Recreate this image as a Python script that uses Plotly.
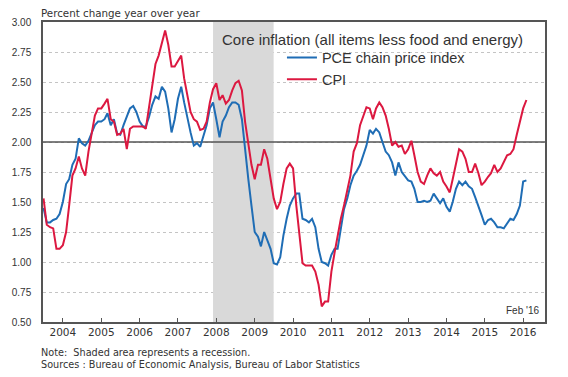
import pandas as pd
import plotly.graph_objects as go

# Monthly values, Jul 2003 - Feb 2016 (percent change, year over year)
cpi_core = [
    1.53, 1.31, 1.29, 1.28, 1.11, 1.11,                                   # 2003 Jul-Dec
    1.14, 1.25, 1.47, 1.72, 1.78, 1.88, 1.78, 1.72, 1.92, 2.06, 2.22, 2.28,  # 2004
    2.28, 2.32, 2.36, 2.19, 2.17, 2.06, 2.07, 2.11, 1.94, 2.11, 2.13, 2.13,  # 2005
    2.13, 2.13, 2.11, 2.28, 2.47, 2.65, 2.72, 2.83, 2.93, 2.81, 2.63, 2.63,  # 2006
    2.67, 2.72, 2.53, 2.39, 2.25, 2.19, 2.17, 2.10, 2.11, 2.17, 2.33, 2.44,  # 2007
    2.49, 2.35, 2.39, 2.32, 2.35, 2.43, 2.49, 2.51, 2.43, 2.17, 1.97, 1.81,  # 2008
    1.69, 1.81, 1.81, 1.94, 1.86, 1.69, 1.53, 1.44, 1.50, 1.65, 1.78, 1.82,  # 2009
    1.78, 1.47, 1.22, 0.99, 0.97, 0.97, 0.97, 0.92, 0.81, 0.63, 0.67, 0.67,  # 2010
    0.92, 1.08, 1.22, 1.36, 1.47, 1.61, 1.72, 1.92, 1.99, 2.14, 2.22, 2.29,  # 2011
    2.28, 2.19, 2.28, 2.33, 2.29, 2.22, 2.11, 1.97, 2.00, 1.96, 1.97, 1.90,  # 2012
    1.94, 2.01, 1.89, 1.75, 1.67, 1.65, 1.72, 1.78, 1.74, 1.72, 1.75, 1.67,  # 2013
    1.63, 1.58, 1.69, 1.83, 1.94, 1.92, 1.86, 1.75, 1.75, 1.82, 1.74, 1.64,  # 2014
    1.67, 1.71, 1.74, 1.81, 1.75, 1.78, 1.83, 1.89, 1.90, 1.94, 2.06, 2.17,  # 2015
    2.28, 2.35,                                                           # 2016 Jan-Feb
]

pce_core = [
    1.45, 1.33, 1.33, 1.35, 1.36, 1.40,                                   # 2003 Jul-Dec
    1.50, 1.65, 1.69, 1.81, 1.86, 2.03, 1.99, 1.97, 2.01, 2.07, 2.14, 2.17,  # 2004
    2.17, 2.19, 2.24, 2.14, 2.19, 2.07, 2.06, 2.14, 2.21, 2.28, 2.30, 2.25,  # 2005
    2.17, 2.13, 2.13, 2.21, 2.31, 2.38, 2.36, 2.46, 2.42, 2.28, 2.08, 2.19,  # 2006
    2.36, 2.46, 2.33, 2.19, 2.08, 1.97, 1.99, 1.96, 2.06, 2.14, 2.28, 2.33,  # 2007
    2.19, 2.04, 2.17, 2.22, 2.29, 2.33, 2.33, 2.31, 2.19, 1.92, 1.69, 1.47,  # 2008
    1.25, 1.21, 1.13, 1.25, 1.18, 1.11, 0.99, 0.98, 1.04, 1.22, 1.36, 1.47,  # 2009
    1.53, 1.57, 1.57, 1.36, 1.35, 1.33, 1.36, 1.29, 1.11, 1.00, 0.99, 0.97,  # 2010
    1.06, 1.11, 1.11, 1.28, 1.44, 1.53, 1.64, 1.72, 1.76, 1.81, 1.89, 1.97,  # 2011
    2.10, 2.07, 2.11, 2.08, 2.00, 1.92, 1.89, 1.83, 1.72, 1.83, 1.75, 1.72,  # 2012
    1.68, 1.67, 1.61, 1.50, 1.50, 1.51, 1.50, 1.51, 1.57, 1.53, 1.49, 1.53,  # 2013
    1.46, 1.42, 1.50, 1.61, 1.67, 1.64, 1.67, 1.63, 1.61, 1.54, 1.47, 1.39,  # 2014
    1.31, 1.35, 1.36, 1.33, 1.29, 1.29, 1.28, 1.32, 1.36, 1.35, 1.40, 1.47,  # 2015
    1.67, 1.68,                                                           # 2016 Jan-Feb
]

start_month = "2003-07-01"
dates = pd.date_range(start_month, periods=len(cpi_core), freq="MS")

x_range = ["2003-06-26", "2016-07-27"]
y_range = [0.50, 3.00]
year_ticks = list(range(2004, 2017))
year_labels = [str(y) for y in year_ticks]
y_ticks = [0.50, 0.75, 1.00, 1.25, 1.50, 1.75, 2.00, 2.25, 2.50, 2.75, 3.00]
y_labels = [f"{v:.2f}" for v in y_ticks]

recession_start = "2007-12-01"
recession_end = "2009-06-30"
reference_level = 2.0

series_names = ["PCE chain price index", "CPI"]
BLUE = "#1f6db5"
RED = "#dc1840"
TXT = "#333333"

fig = go.Figure()
# recession shading (drawn first, beneath the series but above the grid)
fig.add_trace(go.Scatter(
    x=[recession_start, recession_start, recession_end, recession_end, recession_start],
    y=[y_range[0], y_range[1], y_range[1], y_range[0], y_range[0]],
    mode="lines", fill="toself", fillcolor="#d9d9d9", line=dict(width=0),
    showlegend=False, hoverinfo="skip"))
# 2 percent reference line
fig.add_trace(go.Scatter(
    x=x_range, y=[reference_level, reference_level], mode="lines",
    line=dict(color="#555555", width=1.3), showlegend=False, hoverinfo="skip"))

fig.add_trace(go.Scatter(x=dates, y=pce_core, mode="lines", name=series_names[0],
                         line=dict(color=BLUE, width=2)))
fig.add_trace(go.Scatter(x=dates, y=cpi_core, mode="lines", name=series_names[1],
                         line=dict(color=RED, width=2)))

# page body adds an 8px offset, so the figure is 560x369
fig.update_layout(
    width=560, height=369,
    margin=dict(l=35, r=23, t=14, b=55, autoexpand=False),
    paper_bgcolor="white", plot_bgcolor="white",
    showlegend=True,
    legend=dict(x=0.476, y=0.935, xanchor="left", yanchor="top",
                bgcolor="rgba(0,0,0,0)", borderwidth=0, itemwidth=30,
                font=dict(family="Liberation Sans, Arial, sans-serif", size=14.5, color=TXT),
                tracegroupgap=0),
    xaxis=dict(type="date", range=x_range, automargin=False,
               tickvals=[f"{y}-01-01" for y in year_ticks], ticktext=year_labels,
               ticks="inside", ticklen=4, tickcolor="#555555", tickwidth=1,
               showgrid=False, showline=True, mirror=True,
               linecolor="#555555", linewidth=1.5, zeroline=False,
               tickfont=dict(family="DejaVu Sans, sans-serif", size=10.5, color=TXT)),
    yaxis=dict(range=y_range, tickvals=y_ticks, ticktext=y_labels, automargin=False,
               ticks="", showgrid=True, gridcolor="#c4c4c4", griddash="dot", gridwidth=1,
               showline=True, mirror=True, linecolor="#555555", linewidth=1.5,
               zeroline=False, ticklabelstandoff=8,
               tickfont=dict(family="Liberation Sans, Arial, sans-serif", size=10, color=TXT)),
)

fig.add_annotation(text="Percent change year over year", xref="paper", yref="paper",
                   x=-0.008, y=1.0, xanchor="left", yanchor="bottom", yshift=1, showarrow=False,
                   font=dict(family="DejaVu Sans, sans-serif", size=10.3, color=TXT))
fig.add_annotation(text="Core inflation (all items less food and energy)", xref="paper", yref="paper",
                   x=0.3526, y=0.943, xanchor="left", yanchor="middle", showarrow=False,
                   font=dict(family="Liberation Sans, Arial, sans-serif", size=15, color=TXT))
fig.add_annotation(text="Feb '16", xref="paper", yref="paper",
                   x=0.992, y=0.037, xanchor="right", yanchor="middle", showarrow=False,
                   font=dict(family="Liberation Sans, Arial, sans-serif", size=10, color=TXT))
fig.add_annotation(text="Note:  Shaded area represents a recession.", xref="paper", yref="paper",
                   x=-0.008, y=-0.10, xanchor="left", yanchor="middle", showarrow=False,
                   font=dict(family="DejaVu Sans, sans-serif", size=9.7, color=TXT))
fig.add_annotation(text="Sources : Bureau of Economic Analysis, Bureau of Labor Statistics",
                   xref="paper", yref="paper",
                   x=-0.008, y=-0.14, xanchor="left", yanchor="middle", showarrow=False,
                   font=dict(family="DejaVu Sans, sans-serif", size=9.7, color=TXT))

fig.write_html("out.html")
